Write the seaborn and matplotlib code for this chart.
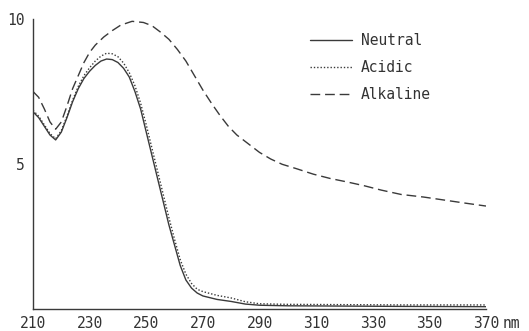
import numpy as np
import pandas as pd
import matplotlib
matplotlib.use("Agg")
import matplotlib.pyplot as plt
import matplotlib.transforms as mtrans
import seaborn as sns

# ---- data ----
neutral_nm = [210, 212, 214, 216, 218, 220, 222, 224, 226, 228, 230, 232, 234, 236, 238,
              240, 242, 244, 246, 248, 250, 252, 254, 256, 258, 260, 262, 264, 266, 268,
              270, 275, 280, 285, 290, 300, 320, 340, 370]
neutral_abs = [6.8, 6.6, 6.3, 6.0, 5.83, 6.1, 6.6, 7.15, 7.6, 7.95, 8.2, 8.4, 8.55, 8.62, 8.6,
               8.5, 8.3, 8.0, 7.5, 6.9, 6.1, 5.3, 4.5, 3.7, 2.9, 2.2, 1.5, 1.0, 0.72, 0.55,
               0.45, 0.33, 0.26, 0.17, 0.13, 0.11, 0.1, 0.09, 0.08]

acidic_nm = [210, 212, 214, 216, 218, 220, 222, 224, 226, 228, 230, 232, 234, 236, 238,
             240, 242, 244, 246, 248, 250, 252, 254, 256, 258, 260, 262, 264, 266, 268,
             270, 275, 280, 285, 290, 300, 320, 340, 370]
acidic_abs = [6.85, 6.65, 6.35, 6.05, 5.87, 6.15, 6.65, 7.2, 7.68, 8.05, 8.32, 8.55, 8.72, 8.82, 8.8,
              8.7, 8.48, 8.15, 7.7, 7.1, 6.35, 5.55, 4.75, 3.95, 3.15, 2.4, 1.7, 1.2, 0.88, 0.68,
              0.6, 0.47, 0.38, 0.25, 0.18, 0.16, 0.15, 0.14, 0.14]

alkaline_nm = [210, 212, 214, 216, 218, 220, 222, 224, 226, 228, 230, 232, 235, 238, 241,
               245, 249, 252, 255, 258, 261, 264, 267, 270, 273, 276, 279, 282, 286, 290,
               294, 298, 303, 309, 315, 321, 327, 333, 340, 348, 355, 362, 370]
alkaline_abs = [7.5, 7.3, 6.9, 6.45, 6.2, 6.45, 7.0, 7.6, 8.05, 8.5, 8.85, 9.1, 9.38, 9.6, 9.79,
                9.92, 9.88, 9.77, 9.55, 9.3, 8.95, 8.55, 8.05, 7.55, 7.1, 6.68, 6.3, 6.0, 5.7, 5.4,
                5.17, 4.99, 4.84, 4.65, 4.5, 4.38, 4.25, 4.1, 3.95, 3.86, 3.76, 3.66, 3.55]

x_ticks = [210, 230, 250, 270, 290, 310, 330, 350, 370]
y_ticks = [5, 10]
series_names = ["Neutral", "Acidic", "Alkaline"]

# ---- styling ----
sns.set_theme(style="white")
plt.rcParams['font.family'] = ['DejaVu Sans Mono', 'DejaVu Sans']
ink = "#3a3a3a"
text_c = "#333333"

fig = plt.figure(figsize=(5.29, 3.31), dpi=100)
ax = fig.add_axes([33/529, 22/331, (486-33)/529, (309-19)/331])

styles = {
    "Neutral": dict(linestyle="-", linewidth=1.0),
    "Acidic": dict(linestyle=(0, (1.0, 1.4)), linewidth=1.0),
    "Alkaline": dict(linestyle=(0, (7, 3.5)), linewidth=1.0),
}
data = {
    "Neutral": (neutral_nm, neutral_abs),
    "Acidic": (acidic_nm, acidic_abs),
    "Alkaline": (alkaline_nm, alkaline_abs),
}
for name in series_names:
    xs, ys = data[name]
    df = pd.DataFrame({"nm": xs, "abs": ys})
    sns.lineplot(data=df, x="nm", y="abs", ax=ax, color=ink, label=name,
                 **styles[name])

ax.set_xlim(210, 370)
ax.set_ylim(0, 10)
ax.set_xticks(x_ticks)
ax.set_yticks(y_ticks)
ax.set_xticklabels([str(t) for t in x_ticks])
ax.set_yticklabels([str(t) for t in y_ticks])
ax.set_xlabel("")
ax.set_ylabel("")

for s in ["top", "right"]:
    ax.spines[s].set_visible(False)
for s in ["left", "bottom"]:
    ax.spines[s].set_color(ink)
    ax.spines[s].set_linewidth(1.0)

ax.tick_params(axis="both", direction="in", length=5, width=1.0, color=ink,
               labelcolor=text_c, labelsize=10.5)
ax.tick_params(axis="x", pad=5)
ax.tick_params(axis="y", pad=6)

# "nm" unit after the last tick label
off = mtrans.offset_copy(ax.transData, fig=fig, x=12, y=-5, units="points")
ax.text(370, 0, "nm", transform=off, ha="left", va="top", fontsize=10.5,
        color=text_c, clip_on=False)

leg = ax.legend(loc="upper left", bbox_to_anchor=(0.589, 0.988), frameon=False,
                fontsize=10.5, handlelength=2.9, handletextpad=0.6,
                labelspacing=0.85, borderpad=0.2)
for t in leg.get_texts():
    t.set_color(text_c)

fig.savefig("out.png", dpi=100)
